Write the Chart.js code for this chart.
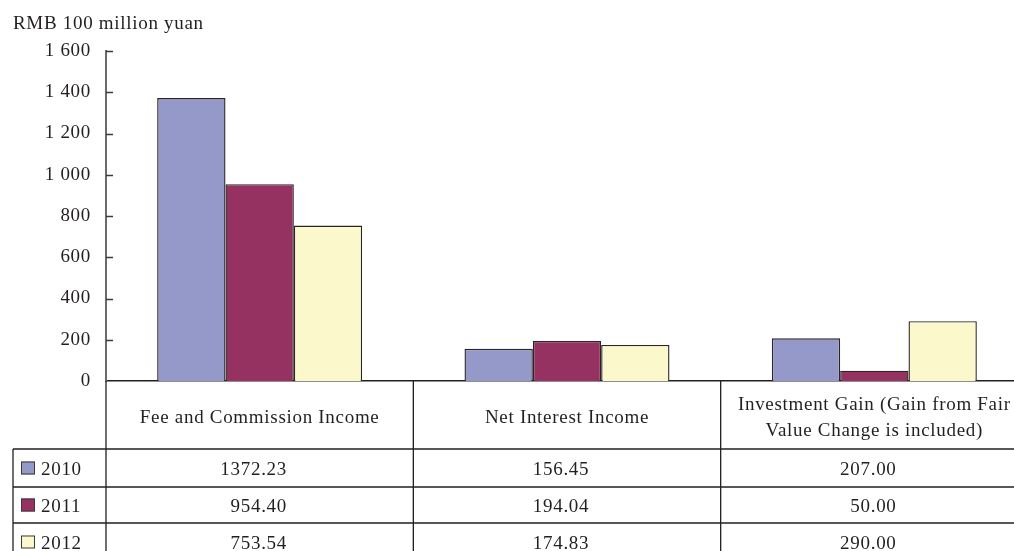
<!DOCTYPE html>
<html>
<head>
<meta charset="utf-8">
<script src="https://cdn.jsdelivr.net/npm/chart.js@4/dist/chart.umd.min.js"></script>
<style>
  html, body { margin: 0; padding: 0; background: #fff; overflow: hidden; }
  #wrap { width: 1028px; height: 551px; }
</style>
</head>
<body>
<div id="wrap"><canvas id="incomeChart" width="1028" height="551"></canvas></div>
<script>
// income breakdown, RMB 100 million yuan
const categories = [
  ["Fee and Commission Income"],
  ["Net Interest Income"],
  ["Investment Gain (Gain from Fair", "Value Change is included)"]
];
const years = ["2010", "2011", "2012"];
const values2010 = [1372.23, 156.45, 207.00];
const values2011 = [954.40, 194.04, 50.00];
const values2012 = [753.54, 174.83, 290.00];
const yTicks = [0, 200, 400, 600, 800, 1000, 1200, 1400, 1600];

const colors = ["#9499c9", "#953262", "#fbf9cc"];
const FONT = "19px 'Liberation Serif', serif";
const INK = "#231f20";

function fmtTick(v) {
  return String(v).replace(/\B(?=(\d{3})+(?!\d))/g, " ");
}

// slightly looser letter spacing for every label on the canvas
const spacingPlugin = {
  id: "spacing",
  beforeDraw(chart) {
    chart.ctx.letterSpacing = "0.7px";
  }
};

// inside ticks on the value axis, unit label and the data table under the plot
const tablePlugin = {
  id: "dataTable",
  afterDraw(chart) {
    const ctx = chart.ctx;
    const area = chart.chartArea;
    const x = chart.scales.x;
    const y = chart.scales.y;
    const colW = x.width / categories.length;
    const rowTops = [449, 487, 523, 561];
    const legendLeft = 13;

    ctx.save();
    ctx.font = FONT;
    ctx.fillStyle = INK;
    ctx.textBaseline = "alphabetic";
    ctx.textAlign = "left";
    ctx.fillText("RMB 100 million yuan", 13, 29);

    // tick marks pointing into the plot
    ctx.strokeStyle = "#3a3a3a";
    ctx.lineWidth = 1.5;
    yTicks.forEach(v => {
      const py = Math.round(y.getPixelForValue(v)) + 0.5;
      if (v === 0) return;
      ctx.beginPath();
      ctx.moveTo(area.left, py);
      ctx.lineTo(area.left + 7, py);
      ctx.stroke();
    });

    // table grid
    ctx.strokeStyle = INK;
    ctx.lineWidth = 1.3;
    ctx.beginPath();
    for (let i = 0; i <= categories.length; i++) {
      const px = area.left + i * colW;
      ctx.moveTo(px, area.bottom);
      ctx.lineTo(px, 551);
    }
    ctx.moveTo(legendLeft, rowTops[0]);
    ctx.lineTo(legendLeft, 551);
    for (let r = 0; r < 3; r++) {
      ctx.moveTo(legendLeft, rowTops[r]);
      ctx.lineTo(area.right, rowTops[r]);
    }
    ctx.stroke();

    // category headers
    ctx.textAlign = "center";
    ctx.textBaseline = "middle";
    const headMid = (area.bottom + rowTops[0]) / 2 + 3;
    categories.forEach((lines, i) => {
      const cx = x.getPixelForValue(i);
      const lh = 26;
      lines.forEach((ln, k) => {
        const ly = headMid + (k - (lines.length - 1) / 2) * lh;
        ctx.fillText(ln, cx, ly);
      });
    });

    // series rows with legend keys
    const series = [values2010, values2011, values2012];
    series.forEach((vals, r) => {
      const mid = (rowTops[r] + rowTops[r + 1]) / 2;
      ctx.fillStyle = colors[r];
      ctx.fillRect(21, mid - 6.5, 14, 13);
      ctx.strokeStyle = "#3a3a3a";
      ctx.lineWidth = 1;
      ctx.strokeRect(21.5, mid - 6, 13, 12);
      ctx.fillStyle = INK;
      ctx.textAlign = "left";
      ctx.fillText(years[r], 41, mid + 2);
    });

    ctx.textAlign = "right";
    categories.forEach((_, i) => {
      const cx = x.getPixelForValue(i);
      const col = series.map(s => s[i].toFixed(2));
      const maxW = Math.max(...col.map(t => ctx.measureText(t).width));
      col.forEach((t, r) => {
        const mid = (rowTops[r] + rowTops[r + 1]) / 2;
        ctx.fillText(t, cx + maxW / 2 - 6, mid + 2);
      });
    });
    ctx.restore();
  }
};

new Chart(document.getElementById("incomeChart"), {
  type: "bar",
  data: {
    labels: categories.map(c => c.join(" ")),
    datasets: [
      { label: years[0], data: values2010, backgroundColor: colors[0] },
      { label: years[1], data: values2011, backgroundColor: colors[1] },
      { label: years[2], data: values2012, backgroundColor: colors[2] }
    ].map(d => Object.assign(d, {
      borderColor: "#2b2526",
      borderWidth: 1.4,
      borderSkipped: "bottom",
      categoryPercentage: 0.667,
      barPercentage: 1
    }))
  },
  options: {
    responsive: false,
    animation: false,
    events: [],
    layout: { padding: { top: 51, left: 13, right: 0, bottom: 170 } },
    plugins: { legend: { display: false }, tooltip: { enabled: false } },
    scales: {
      x: {
        grid: { display: false },
        ticks: { display: false },
        border: { display: true, color: INK, width: 1.5 },
        afterFit(scale) { scale.height = 0; }
      },
      y: {
        min: 0,
        max: 1600,
        grid: { display: false },
        border: { display: true, color: "#6b6b6b", width: 2 },
        afterBuildTicks(scale) { scale.ticks = yTicks.map(v => ({ value: v })); },
        ticks: {
          padding: 7,
          color: INK,
          font: { family: "'Liberation Serif', serif", size: 19 },
          callback: v => fmtTick(v)
        },
        afterFit(scale) { scale.width = 106 - 13; }
      }
    }
  },
  plugins: [spacingPlugin, tablePlugin]
});
</script>
</body>
</html>
